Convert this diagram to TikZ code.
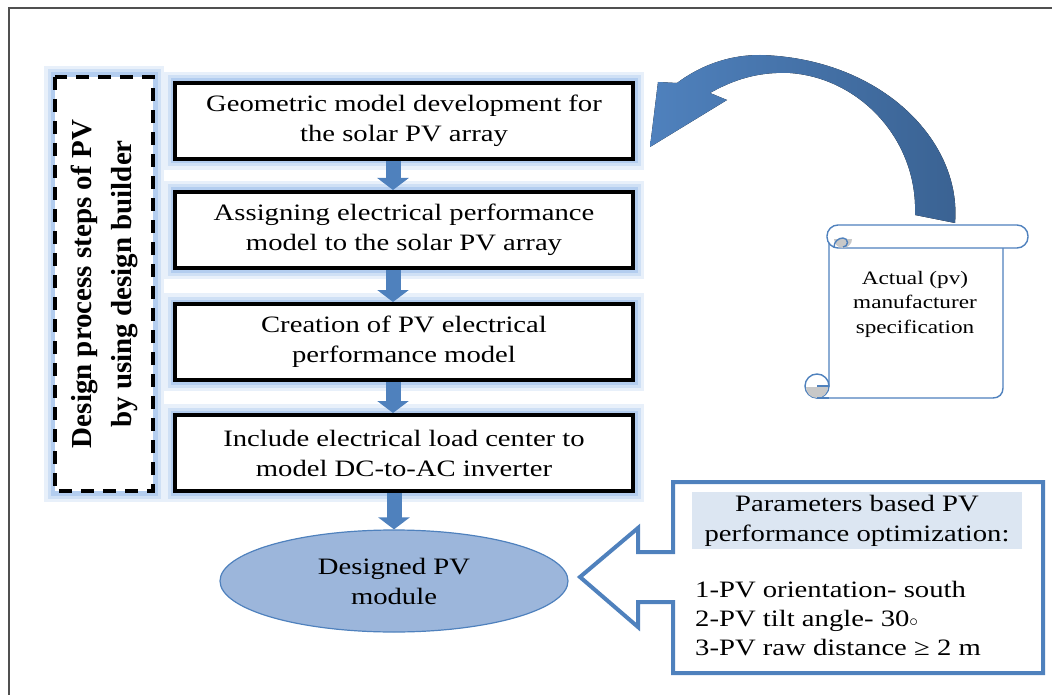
\documentclass[tikz,border=0pt]{standalone}
\usepackage{fontspec}
\setmainfont{Liberation Serif}[FakeStretch=1.22]
\newfontfamily\rotfont{Liberation Serif}
\usetikzlibrary{arrows.meta,shapes.geometric}
\definecolor{acc}{HTML}{4F81BD}
\definecolor{accdark}{HTML}{3A6292}
\definecolor{glowA}{HTML}{E8F0FA}
\definecolor{glowB}{HTML}{CFE0F5}
\definecolor{glowC}{HTML}{B3CDEF}
\definecolor{ellfill}{HTML}{9CB6DB}
\definecolor{headfill}{HTML}{DCE6F2}
\definecolor{framecol}{HTML}{505050}
\definecolor{curlcol}{HTML}{C8C8C8}
\begin{document}
\begin{tikzpicture}[x=1pt,y=-1pt,
  glow/.style={preaction={draw=glowA,solid,line width=22pt},
               preaction={draw=glowB,solid,line width=15pt},
               preaction={draw=glowC,solid,line width=9pt}},
  stepbox/.style={glow,draw=black,line width=4pt,fill=white,minimum width=458pt,minimum height=76pt,
    align=center,inner sep=0pt,font=\fontsize{23.5}{30}\selectfont},
  sidebox/.style={glow,draw=black,line width=4pt,fill=white,dash pattern=on 13pt off 9pt,
    minimum width=414pt,minimum height=98pt,rotate=90,align=center,inner sep=0pt,
    font=\rotfont\bfseries\fontsize{29}{40}\selectfont},
  flow/.style={draw=acc,line width=15pt,-{Triangle[width=31pt,length=12pt]}},
  modnode/.style={ellipse,draw=acc,line width=1.2pt,fill=ellfill,minimum width=348pt,minimum height=102pt,
    align=center,inner sep=0pt,font=\fontsize{23.5}{30}\selectfont},
  callout/.style={draw=acc,line width=4pt,line join=miter},
  scrollline/.style={draw=acc,line width=1.4pt,fill=white},
  plain/.style={align=center,inner sep=0pt,font=\fontsize{23.5}{30}\selectfont}
]
\useasboundingbox (0,0) rectangle (1052,695);
% outer frame
\draw[framecol,line width=1.5pt] (9,695) -- (9,8) -- (1052,8);

% side dashed box
\node[sidebox] (side) at (104,284) {Design process steps of PV\\by using design builder};

% step boxes
\node[stepbox] (b1) at (404,121) {Geometric model development for\\the solar PV array};
\node[stepbox] (b2) at (404,230) {Assigning electrical performance\\model to the solar PV array};
\node[stepbox] (b3) at (404,342) {Creation of PV electrical\\performance model};
\node[stepbox] (b4) at (404,453) {Include electrical load center to\\model DC-to-AC inverter};

% ellipse
\node[modnode] (mod) at (394,581) {Designed PV\\module};

% flow arrows
\draw[flow] ([xshift=-11pt]b1.south) -- ([xshift=-11pt]b2.north);
\draw[flow] ([xshift=-11pt]b2.south) -- ([xshift=-11pt]b3.north);
\draw[flow] ([xshift=-11pt]b3.south) -- ([xshift=-11pt]b4.north);
\draw[flow] (b4.south -| mod.north) -- (mod.north);

% scroll
\path[scrollline] (829,240) -- (829,386) -- (817,398) -- (993,398)
  .. controls (999,398) and (1003,394) .. (1003,388) -- (1003,246) -- cycle;
\path[scrollline,rounded corners=11pt] (827,225) rectangle (1028,248);
\fill[curlcol] (834,239) arc[start angle=180,end angle=0,radius=9] -- cycle;
\draw[acc,line width=1.4pt] (843,247) arc[start angle=90,end angle=-90,radius=4.5]
  -- (843,238) arc[start angle=270,end angle=180,radius=9];
\path[scrollline] (817,386) circle[radius=12];
\fill[curlcol] (806,387) arc[start angle=180,end angle=0,radius=11] -- cycle;
\draw[acc,line width=1.4pt] (817,386) -- (829,386);
\draw[acc,line width=1.4pt] (817,398) -- (829,398);
\node[align=center,inner sep=0pt,font=\fontsize{19}{24.5}\selectfont] (spec) at (915,304)
  {Actual (pv)\\manufacturer\\specification};

% curved arrow from the scroll to the first box
\fill[left color=acc,right color=accdark]
  (955,223) .. controls (962,140) and (880,58) .. (760,55)
  .. controls (725,55) and (697,68) .. (677,83)
  -- (658,82) -- (650,147) -- (727,100) -- (710,93)
  .. controls (740,76) and (765,72) .. (790,73)
  .. controls (860,78) and (918,140) .. (915,215) -- cycle;

% parameters callout
\draw[callout] (673,482) -- (1043,482) -- (1043,673) -- (673,673) -- (673,602)
  -- (638,602) -- (638,627) -- (580,577) -- (638,528) -- (638,552) -- (673,552) -- cycle;
\node[plain,fill=headfill,minimum width=330pt,minimum height=57pt] (phead) at (857,520.5)
  {Parameters based PV\\performance optimization:};
\node[anchor=west,align=left,inner sep=0pt,font=\fontsize{23.5}{29}\selectfont] (plist) at (695,619)
  {1-PV orientation- south\\2-PV tilt angle- 30$\scriptstyle\circ$\\3-PV raw distance ≥ 2 m};
\end{tikzpicture}
\end{document}
